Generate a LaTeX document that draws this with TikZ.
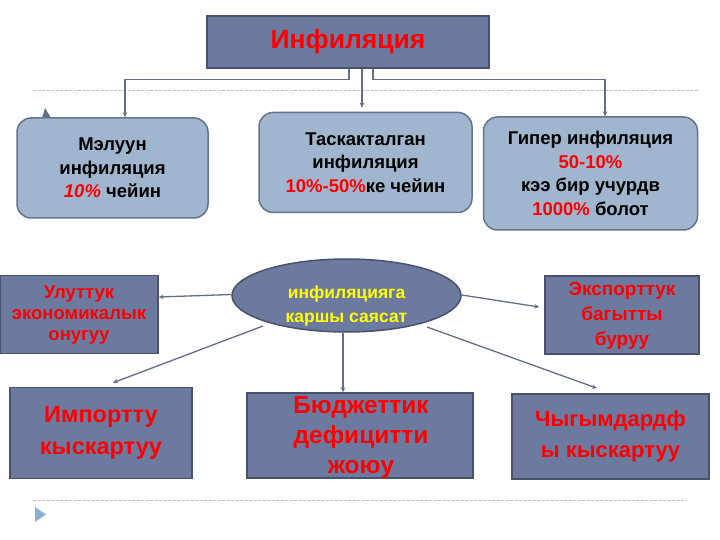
\documentclass[tikz,border=0pt]{standalone}
\usepackage{fontspec}
\setmainfont{Liberation Sans}
\usetikzlibrary{shapes.geometric,arrows.meta,calc}
\definecolor{slate}{RGB}{108,122,160}
\definecolor{slatedraw}{RGB}{72,82,108}
\definecolor{lightfill}{RGB}{160,182,206}
\definecolor{lightdraw}{RGB}{100,116,138}
\definecolor{conn}{RGB}{100,110,134}
\definecolor{dashcol}{RGB}{190,190,190}
\definecolor{bulletcol}{RGB}{140,174,208}
\definecolor{txtred}{RGB}{255,0,0}
\definecolor{txtyellow}{RGB}{255,255,0}
\newcommand\rd[1]{\textcolor{txtred}{#1}}
\begin{document}
\begin{tikzpicture}[x=1pt,y=-1pt,
  lightbox/.style={draw=lightdraw, fill=lightfill, rounded corners=14pt, line width=1.5pt, inner sep=0pt, align=center, text=black, font=\fontsize{18.5}{23.5}\selectfont\bfseries},
  darkbox/.style={draw=slatedraw, fill=slate, line width=1.5pt, inner sep=0pt, align=center, text=txtred},
  boxtext/.style={inner sep=0pt, align=center, text=txtred},
  connector/.style={draw=conn, line width=1.3pt, -{Stealth[length=5pt,width=4.5pt]}},
  dashline/.style={draw=dashcol, line width=0.8pt, dash pattern=on 3pt off 1.5pt}
]
\useasboundingbox (0,0) rectangle (720,540);
\fill[white] (0,0) rectangle (720,540);

% dashed guide lines
\draw[dashline] (33,90) -- (698,90);
\draw[dashline] (33,500) -- (687,500);
% bottom bullet
\fill[bulletcol] (35,507) -- (46,514.5) -- (35,522) -- cycle;
% small stray tip
\fill[conn] (42,118) -- (45,108) -- (51,118) -- cycle;

% title
\node[darkbox, minimum width=282, minimum height=52, font=\fontsize{26.5}{29}\selectfont\bfseries] (t) at (348,42) {Инфиляция};

% top row
\node[lightbox, minimum width=191, minimum height=100] (a) at (112.5,168) {Мэлуун\\инфиляция\\\rd{\itshape 10\%} чейин};
\node[lightbox, minimum width=213, minimum height=100] (b) at (365.5,162.5) {Таскакталган\\инфиляция\\\rd{10\%-50\%}ке чейин};
\node[lightbox, minimum width=214, minimum height=113] (c) at (590.5,173.5) {Гипер инфиляция\\\rd{50-10\%}\\кээ бир учурдв\\\rd{1000\%} болот};

% middle row
\node[darkbox, minimum width=158, minimum height=78] (d) at (79,314.5) {};
\node[boxtext, font=\fontsize{18.5}{21}\selectfont\bfseries] (dt) at (79,315) {Улуттук\\экономикалык\\онугуу};
\node[ellipse, draw=slatedraw, fill=slate, line width=1.5pt, minimum width=229, minimum height=73, inner sep=0pt] (e) at (346.5,295.5) {};
\node[boxtext, text=txtyellow, font=\fontsize{17.5}{24}\selectfont\bfseries] (et) at (346.5,306) {инфиляцияга\\каршы саясат};
\node[darkbox, minimum width=154, minimum height=78] (ex) at (622,315) {};
\node[boxtext, font=\fontsize{19}{25}\selectfont\bfseries] (ext) at (622,316) {Экспорттук\\багытты\\буруу};

% bottom row
\node[darkbox, minimum width=182, minimum height=91, font=\fontsize{23.5}{32}\selectfont\bfseries] (f) at (101,433) {Импортту\\кыскартуу};
\node[darkbox, minimum width=226, minimum height=85] (g) at (360,435.5) {};
\node[boxtext, font=\fontsize{24.5}{30}\selectfont\bfseries] (gt) at (361,438) {Бюджеттик\\дефицитти\\жоюу};
\node[darkbox, minimum width=197, minimum height=85, font=\fontsize{22}{31}\selectfont\bfseries] (h) at (610.5,436.5) {Чыгымдардф\\ы кыскартуу};

% connectors from title
\draw[connector] ($(t.south)+(1,0)$) -- ++(0,11) -| ($(a.north)+(12.5,0)$);
\draw[connector] ($(t.south)+(14,0)$) -- ($(b.north)+(-3.5,-4)$);
\draw[connector] ($(t.south)+(25,0)$) -- ++(0,11) -| ($(c.north)+(14.5,0)$);

% connectors from ellipse
\draw[connector] ($(e.west)+(0,-1)$) -- ($(d.east)+(0,-17.5)$);
\draw[connector] ($(e.center)+(-83.5,30.5)$) -- ($(f.north)+(12,-4)$);
\draw[connector] ($(e.south)+(-3.5,0)$) -- ($(g.north)+(-17,0)$);
\draw[connector] ($(e.east)+(0,-0.5)$) -- ($(ex.west)+(-5,-8)$);
\draw[connector] ($(e.center)+(80.5,31.5)$) -- ($(h.north)+(-13.5,-5)$);
\end{tikzpicture}
\end{document}
